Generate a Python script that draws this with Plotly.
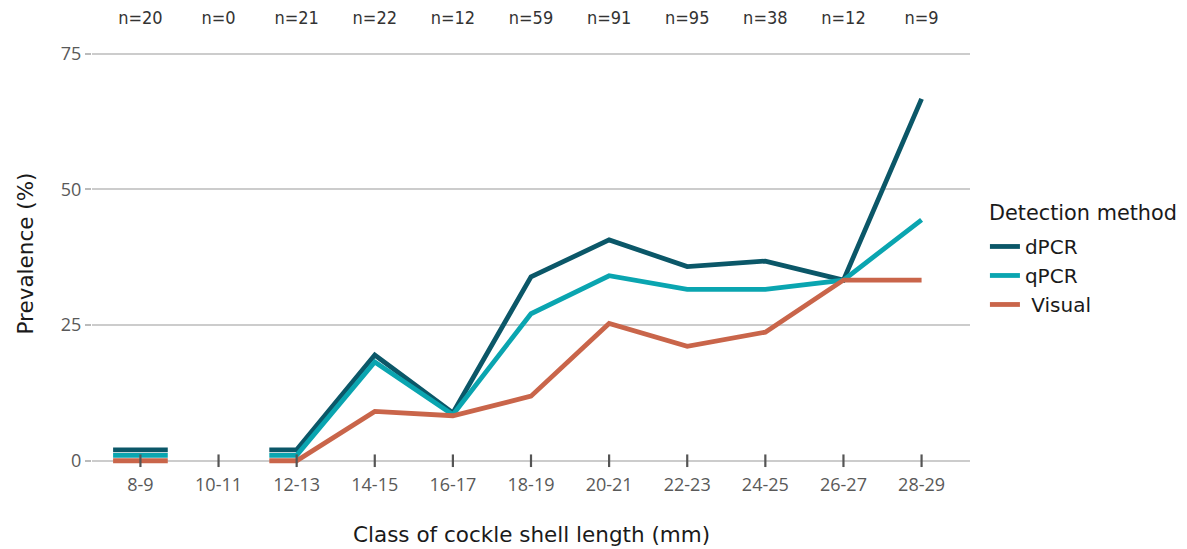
import plotly.graph_objects as go

categories = ["8-9", "10-11", "12-13", "14-15", "16-17", "18-19", "20-21", "22-23", "24-25", "26-27", "28-29"]
n_labels = ["n=20", "n=0", "n=21", "n=22", "n=12", "n=59", "n=91", "n=95", "n=38", "n=12", "n=9"]
dpcr = [0, None, 0, 19.5, 8.8, 33.9, 40.7, 35.8, 36.8, 33.3, 66.7]
qpcr = [0, None, 0, 18.2, 8.5, 27.1, 34.1, 31.6, 31.6, 33.3, 44.4]
visual = [0, None, 0, 9.1, 8.3, 11.9, 25.3, 21.1, 23.7, 33.3, 33.3]

series = [
    ("dPCR", dpcr, "#0b5768", 2.0),
    ("qPCR", qpcr, "#0aa5b0", 1.0),
    (" Visual", visual, "#c9654a", 0.0),
]
HALF = 0.35  # half width of flat segment drawn for zero values next to a gap


def build(vals, offset):
    xs, ys = [], []
    n = len(vals)
    for i, v in enumerate(vals):
        if v is None:
            xs.append(None)
            ys.append(None)
            continue
        is_zero = v == 0
        yv = v + offset if is_zero else v
        left_missing = i == 0 or vals[i - 1] is None
        right_missing = i == n - 1 or vals[i + 1] is None
        if is_zero and left_missing:
            xs.append(i - HALF)
            ys.append(yv)
        xs.append(i)
        ys.append(yv)
        if is_zero and right_missing:
            xs.append(i + HALF)
            ys.append(yv)
    return xs, ys


fig = go.Figure()
for name, vals, color, off in series:
    xs, ys = build(vals, off)
    fig.add_trace(go.Scatter(x=xs, y=ys, mode="lines", name=name,
                             line=dict(color=color, width=4.8),
                             connectgaps=False))

# tick marks crossing the baseline
fig.add_trace(go.Scatter(x=list(range(len(categories))), y=[0] * len(categories),
                         mode="markers", showlegend=False, hoverinfo="skip",
                         cliponaxis=False,
                         marker=dict(symbol="line-ns", size=9,
                                     line=dict(color="#555555", width=2.2))))

# dummy trace for top axis
fig.add_trace(go.Scatter(x=list(range(len(categories))), y=[None] * len(categories),
                         xaxis="x2", showlegend=False, hoverinfo="skip"))

tick_font = dict(family="Open Sans, DejaVu Sans, sans-serif", size=18, color="#595959")
title_font = dict(family="DejaVu Sans, Verdana, sans-serif", size=21.5, color="#1a1a1a")

# page body has an 8px margin, so the figure is sized to fit the window
fig.update_layout(
    width=1179, height=541,
    margin=dict(l=84, r=217, t=35, b=85),
    plot_bgcolor="white", paper_bgcolor="white",
    showlegend=True,
    legend=dict(
        font=dict(family="DejaVu Sans, Verdana, sans-serif", size=20, color="#1a1a1a"),
        x=1.017, xanchor="left", y=0.563, yanchor="top",
        tracegroupgap=0, itemwidth=30,
    ),
    annotations=[
        dict(text="Detection method", xref="paper", yref="paper",
             x=1.0, xshift=17, xanchor="left", y=0.597, yanchor="middle",
             showarrow=False, font=dict(family="DejaVu Sans, Verdana, sans-serif", size=20.8, color="#1a1a1a")),
        dict(text="Class of cockle shell length (mm)", xref="paper", yref="paper",
             x=0.5, xanchor="center", y=-0.168, yanchor="middle",
             showarrow=False, font=title_font),
        dict(text="Prevalence (%)", xref="paper", yref="paper",
             x=-0.0763, xanchor="center", y=0.5, yanchor="middle", textangle=-90,
             showarrow=False, font=title_font),
    ],
    xaxis=dict(
        range=[-0.62, 10.62], automargin=False,
        tickmode="array", tickvals=list(range(len(categories))), ticktext=categories,
        showgrid=False, zeroline=False, showline=False, ticks="",
        tickfont=tick_font, ticklabelstandoff=8,
    ),
    xaxis2=dict(
        overlaying="x", side="top", matches="x", automargin=False,
        range=[-0.62, 10.62],
        tickmode="array", tickvals=list(range(len(categories))), ticktext=n_labels,
        tickfont=dict(family="DejaVu Sans Condensed, DejaVu Sans, sans-serif", size=18, color="#333333"),
        ticklabelstandoff=14,
        showgrid=False, zeroline=False, showline=False, ticks="",
    ),
    yaxis=dict(
        range=[-0.6, 77], automargin=False,
        tickmode="array", tickvals=[0, 25, 50, 75], ticktext=["0", "25", "50", "75"],
        showgrid=True, gridcolor="#cccccc", gridwidth=2,
        zeroline=False, showline=False,
        ticks="outside", ticklen=6, tickcolor="#bbbbbb", tickwidth=1.5,
        tickfont=tick_font,
    ),
)

fig.write_html("out.html")
